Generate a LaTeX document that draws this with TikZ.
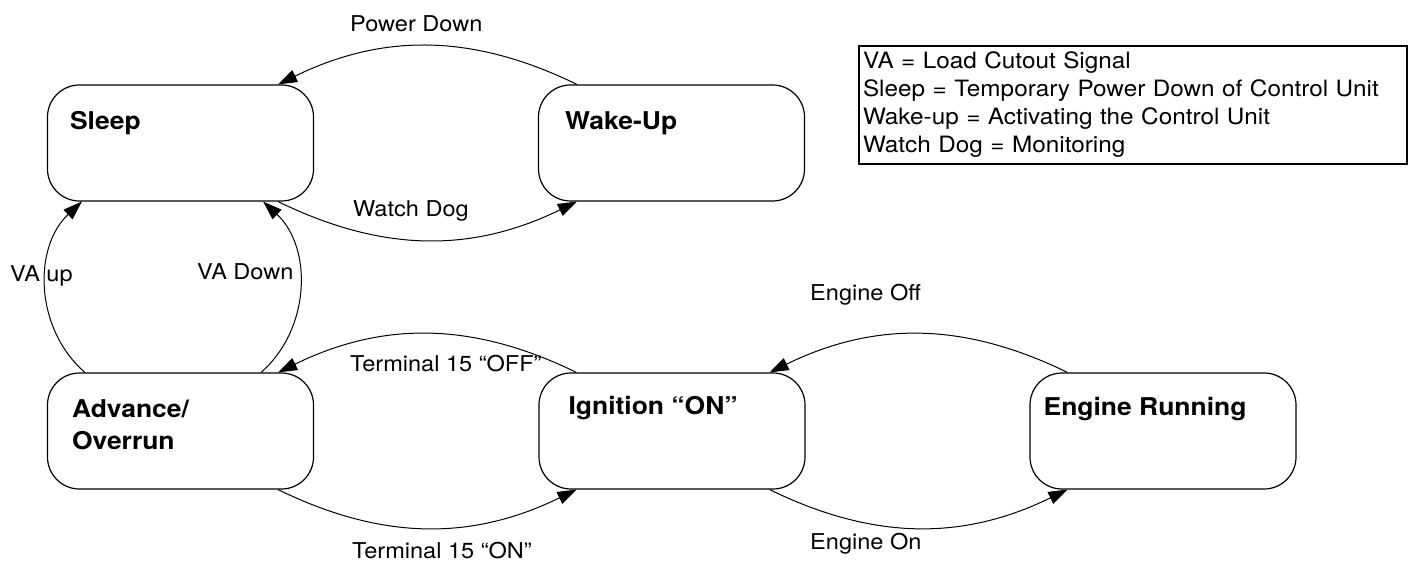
\documentclass[tikz,border=0pt]{standalone}
\usepackage{fontspec}
\setmainfont{TeX Gyre Heros}[FakeStretch=1.08]
\usetikzlibrary{arrows.meta}
\begin{document}
\begin{tikzpicture}[x=1pt,y=1pt,
  state/.style={draw, line width=1.2pt, rounded corners=32pt, minimum width=266pt, minimum height=116pt, inner sep=0pt},
  statetext/.style={anchor=north west, inner sep=0pt, align=left, font=\bfseries\fontsize{24.5}{32}\selectfont},
  trans/.style={line width=1pt, -{Triangle[length=19pt,width=13pt]}},
  lbl/.style={inner sep=0pt, anchor=base west, font=\fontsize{21.8}{26}\selectfont},
  legend/.style={draw, line width=2pt, anchor=north west, minimum width=548pt, minimum height=118pt,
     inner xsep=4pt, inner ysep=0pt, text width=540pt, align=left, font=\fontsize{22.5}{28}\selectfont}]
\useasboundingbox (0,0) rectangle (1411,563);

% states
\node[state] (sleep) at (180.5,420) {};
\node[state] (wake) at (671.5,420) {};
\node[state] (adv) at (180.5,132) {};
\node[state] (ign) at (672,132) {};
\node[state] (eng) at (1163,132) {};

\node[statetext] (sleept) at ([shift={(23,-27)}]sleep.north west) {Sleep};
\node[statetext] (waket) at ([shift={(27,-27)}]wake.north west) {Wake-Up};
\node[statetext] (advt) at ([shift={(25,-27)}]adv.north west) {Advance/\\Overrun};
\node[statetext] (ignt) at ([shift={(30,-24)}]ign.north west) {Ignition “ON”};
\node[statetext] (engt) at ([shift={(14,-25)}]eng.north west) {Engine Running};

% transitions
\draw[trans] ([xshift=39pt]wake.north west) to[bend right=26] ([xshift=-36pt]sleep.north east);
\draw[trans] ([xshift=-36pt]sleep.south east) to[bend right=26] ([xshift=39pt]wake.south west);
\draw[trans] ([xshift=38pt]adv.north west) to[bend left=48] ([xshift=35pt]sleep.south west);
\draw[trans] ([xshift=-53pt]adv.north east) to[bend right=48] ([xshift=-51pt]sleep.south east);
\draw[trans] ([xshift=38pt]ign.north west) to[bend right=26] ([xshift=-36pt]adv.north east);
\draw[trans] ([xshift=-36pt]adv.south east) to[bend right=26] ([xshift=38pt]ign.south west);
\draw[trans] ([xshift=38pt]eng.north west) to[bend right=26] ([xshift=-36pt]ign.north east);
\draw[trans] ([xshift=-36pt]ign.south east) to[bend right=26] ([xshift=38pt]eng.south west);

% labels
\node[lbl] (lpd) at (350,531) {Power Down};
\node[lbl] (lwd) at (353,346) {Watch Dog};
\node[lbl] (lvu) at (10,281) {VA up};
\node[lbl] (lvd) at (197,283) {VA Down};
\node[lbl] (ltoff) at (350,192) {Terminal 15 “OFF”};
\node[lbl] (lton) at (352,5) {Terminal 15 “ON”};
\node[lbl] (leoff) at (810,262) {Engine Off};
\node[lbl] (leon) at (810,14) {Engine On};

% legend
\node[legend] (key) at (858,518) {VA = Load Cutout Signal\\Sleep = Temporary Power Down of Control Unit\\Wake-up = Activating the Control Unit\\Watch Dog = Monitoring};
\end{tikzpicture}
\end{document}
